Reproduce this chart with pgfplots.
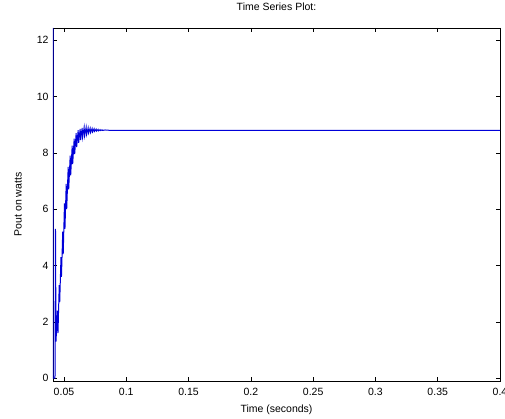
\documentclass[border=0pt]{standalone}
\usepackage{pgfplots}
\pgfplotsset{compat=1.18}
\usepackage{fontspec}
\setmainfont{Liberation Sans}
\begin{document}
\begin{tikzpicture}
\begin{axis}[
  name=ax,
  scale only axis,
  width=447pt, height=353pt,
  xmin=0.0412, xmax=0.4,
  ymin=-0.1, ymax=12.43,
  xtick={0.05,0.1,0.15,0.2,0.25,0.3,0.35,0.4},
  xticklabels={0.05,0.1,0.15,0.2,0.25,0.3,0.35,0.4},
  ytick={0,2,4,6,8,10,12},
  tick align=inside,
  major tick length=4pt,
  tick style={black, line width=0.5pt},
  axis line style={black, line width=0.6pt},
  /pgf/number format/assume math mode=true,
  tick label style={font=\fontsize{10.5}{12}\selectfont},
  xticklabel style={yshift=-3.5pt},
  yticklabel style={xshift=-1pt},
  every axis title shift=0pt,
  title={Time Series Plot:},
  title style={font=\fontsize{10.5}{12}\selectfont, at={(axis description cs:0.5,1)}, anchor=center, yshift=21pt},
  xlabel={Time (seconds)},
  ylabel={Pout on watts},
  label style={font=\fontsize{10.5}{12}\selectfont},
  xlabel style={at={(axis description cs:0.5,-0.082)}, anchor=center},
  ylabel style={at={(axis description cs:-0.078,0.5)}, anchor=center},
  clip=true,
]
\addplot[blue!85!black, line width=1pt] coordinates {
(0.0412,12.43) (0.0414,0) (0.0428,0) (0.0432,5.3) (0.0436,1.3)
(0.0448,2.4) (0.0452,1.6) (0.0462,3.3) (0.0466,2.7)
(0.0476,4.3) (0.0480,3.6) (0.0490,5.2) (0.0494,4.4)
(0.0504,6.2) (0.0508,5.3) (0.0518,6.9) (0.0522,6.0)
(0.0534,7.5) (0.0538,6.7) (0.0550,7.9) (0.0554,7.2)
(0.0566,8.25) (0.0570,7.6) (0.0582,8.5) (0.0586,7.95)
(0.0598,8.7) (0.0602,8.2) (0.0614,8.8) (0.0618,8.35)
(0.0630,8.85) (0.0634,8.45) (0.0646,8.88) (0.0650,8.55)
(0.0662,8.9) (0.0666,8.6) (0.0678,8.9) (0.0682,8.65)
(0.0694,8.88) (0.0698,8.7) (0.0710,8.87) (0.0714,8.72)
(0.0726,8.86) (0.0730,8.74) (0.0742,8.85) (0.0746,8.76)
(0.0758,8.84) (0.0762,8.77) (0.0774,8.83) (0.0778,8.78)
(0.0790,8.82) (0.0794,8.79) (0.0806,8.815) (0.0810,8.795)
(0.0830,8.81) (0.0860,8.80) (0.4,8.80)
};
\end{axis}
\pgfresetboundingbox
\path[use as bounding box] ([shift={(-53pt,-38pt)}]ax.south west) rectangle ([shift={(5pt,28pt)}]ax.north east);
\end{tikzpicture}
\end{document}
